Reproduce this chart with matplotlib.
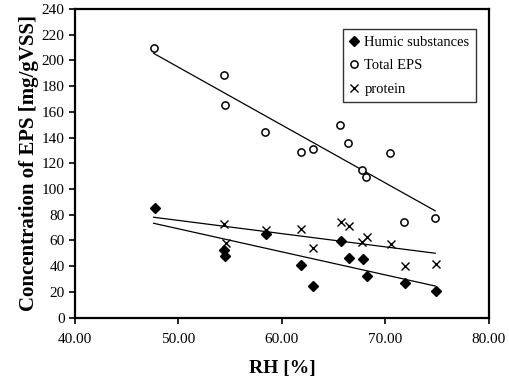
import numpy as np
import matplotlib

matplotlib.use("agg")

import matplotlib.pyplot as plt

plt.rcParams["font.family"] = ["Liberation Serif", "DejaVu Serif"]

# relative humidity [%] and EPS fractions [mg/gVSS]
rh_total = [47.6, 54.4, 54.5, 58.4, 61.8, 63.0, 65.6, 66.4, 67.7, 68.1, 70.4, 71.8, 74.8]
total_eps = [209.7, 188.7, 165.3, 144.6, 129.0, 131.0, 149.7, 135.5, 114.8, 109.5, 127.7, 74.5, 77.6]

rh_humic = [47.7, 54.4, 54.5, 58.5, 61.8, 63.0, 65.7, 66.5, 67.8, 68.2, 71.9, 74.9]
humic = [85.0, 52.5, 47.8, 65.0, 40.8, 24.7, 59.8, 46.0, 45.2, 32.0, 26.8, 20.9]

rh_protein = [54.4, 54.6, 58.5, 61.8, 63.0, 65.7, 66.5, 67.7, 68.2, 70.5, 71.9, 74.9]
protein = [72.7, 58.2, 68.0, 68.9, 53.8, 74.3, 71.2, 59.0, 62.4, 57.2, 40.0, 41.6]

# linear trend lines drawn across 47.6 .. 74.8 % RH
trend_x = [47.6, 74.8]
trend_total = [205.5, 83.0]
trend_humic = [73.3, 24.5]
trend_protein = [78.0, 50.0]

fig = plt.figure(figsize=(5.09, 3.83), dpi=100)
ax = fig.add_axes([0.1473, 0.171, 0.8134, 0.8055])

ax.plot(trend_x, trend_total, color="black", lw=0.9)
ax.plot(trend_x, trend_humic, color="black", lw=0.9)
ax.plot(trend_x, trend_protein, color="black", lw=0.9)

ax.plot(rh_humic, humic, "D", color="black", ms=5, ls="none", label="Humic substances")
ax.plot(rh_total, total_eps, "o", mfc="white", mec="black", mew=1.1, ms=5.2, ls="none", label="Total EPS")
ax.plot(rh_protein, protein, "x", color="black", mew=1.0, ms=6, ls="none", label="protein")

ax.set_xlim(40, 80)
ax.set_ylim(0, 240)
ax.set_xticks(np.arange(40, 81, 10))
ax.set_xticklabels([f"{v:.2f}" for v in range(40, 81, 10)])
ax.set_yticks(np.arange(0, 241, 20))

ax.tick_params(axis="both", direction="out", length=4, width=1.2, labelsize=11, colors="black")
ax.tick_params(axis="x", pad=7)
for s in ax.spines.values():
    s.set_linewidth(1.6)

ax.set_xlabel("RH [%]", fontsize=14, fontweight="bold", labelpad=10)
ax.set_ylabel("Concentration of EPS [mg/gVSS]", fontsize=15, fontweight="bold", labelpad=2)

leg = ax.legend(loc="upper right", bbox_to_anchor=(0.9686, 0.935), borderaxespad=0,
                fontsize=10.5, frameon=True, fancybox=False, edgecolor="black",
                handlelength=0.6, handletextpad=0.4, borderpad=0.45, labelspacing=0.7)
leg.get_frame().set_linewidth(1.0)

fig.savefig("out.png", dpi=100)
